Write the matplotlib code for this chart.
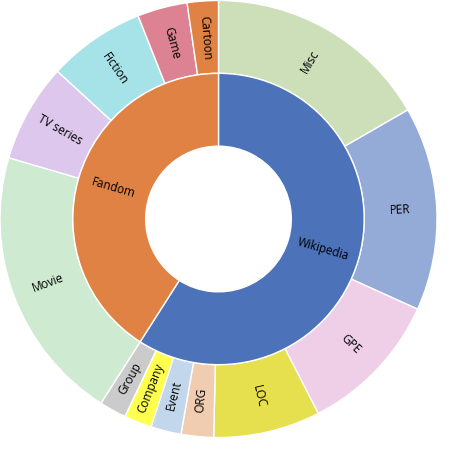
import numpy as np
import matplotlib
matplotlib.use('Agg')
import matplotlib.pyplot as plt

# inner ring
sources = ['Wikipedia', 'Fandom']
source_colors = ['#4C72BA', '#DF8244']

# outer ring (clockwise from top), shares in percent
categories = ['Misc', 'PER', 'GPE', 'LOC', 'ORG', 'Event', 'Company', 'Group',
              'Movie', 'TV series', 'Fiction', 'Game', 'Cartoon']
cat_values = [16.7, 15.1, 10.7, 7.9, 2.4, 2.25, 2.05, 2.0,
              20.5, 7.3, 7.2, 3.7, 2.3]
cat_source = [0, 0, 0, 0, 0, 0, 0, 0, 1, 1, 1, 1, 1]
cat_colors = ['#CCDFB9', '#94ABD8', '#EFCFE7', '#E6DF4E', '#F0CCB1', '#C2D7EB',
              '#FFFF4F', '#CBCBCB', '#CEEBD1', '#DDC7EC', '#A6E3E8', '#DD8292', '#DF8244']

source_values = [sum(v for v, s in zip(cat_values, cat_source) if s == i)
                 for i in range(len(sources))]

plt.rcParams['font.family'] = ['Open Sans', 'DejaVu Sans']

fig = plt.figure(figsize=(4.70, 4.72), dpi=100)
ax = fig.add_axes([0, 1 - 438 / 472, 437 / 470, 438 / 472])

wedge_kw = dict(edgecolor='white', linewidth=1)
outer, _ = ax.pie(cat_values, radius=1.0, colors=cat_colors, startangle=90,
                  counterclock=False, wedgeprops=dict(width=1 / 3, **wedge_kw))
inner, _ = ax.pie(source_values, radius=2 / 3, colors=source_colors, startangle=90,
                  counterclock=False, wedgeprops=dict(width=1 / 3, **wedge_kw))


def radial_label(wedge, text, r):
    ang = (wedge.theta1 + wedge.theta2) / 2
    x, y = r * np.cos(np.radians(ang)), r * np.sin(np.radians(ang))
    rot = ((ang + 180) % 360) - 180
    if rot > 90:
        rot -= 180
    elif rot < -90:
        rot += 180
    ax.text(x, y, text, rotation=rot, ha='center', va='center',
            rotation_mode='anchor', fontsize=8.5, color='black')


for w, lab in zip(outer, categories):
    radial_label(w, lab, 5 / 6)
for w, lab in zip(inner, sources):
    radial_label(w, lab, 0.5)

ax.set_xlim(-1.0, 1.0)
ax.set_ylim(-1.0, 1.0)
ax.set_aspect('equal')
ax.axis('off')

fig.savefig('out.png', dpi=100)
